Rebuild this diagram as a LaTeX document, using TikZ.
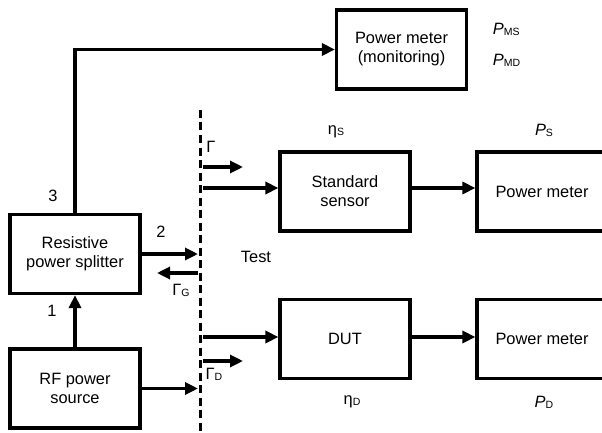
\documentclass[tikz,border=0pt]{standalone}
\usepackage{fontspec}
\setmainfont{Liberation Sans}
\usepackage{tikz}
\usetikzlibrary{arrows.meta}
\def\boxW{130pt}
\def\boxH{79pt}
\def\lw{3.2pt}
% quantity with a small upright index
\newcommand{\qtyidx}[2]{#1{\fontsize{10.5}{11}\selectfont\raisebox{-1pt}{#2}}}

\begin{document}
\begin{tikzpicture}[
    x=1pt, y=-1pt,
    line width=\lw,
    >={Triangle[length=13pt,width=12pt]},
    every node/.style={font=\fontsize{16.4}{19}\selectfont},
    block/.style={draw, rectangle, align=center, line width=\lw,
                  minimum width=\boxW, minimum height=\boxH, inner sep=0pt},
    plane/.style={line width=3pt, dash pattern=on 8pt off 4.5pt}
]
\useasboundingbox (0,0) rectangle (602,433);
\clip (0,0) rectangle (602,433);

\node[block] (mon)   at (401.5,49.5) {Power meter\\(monitoring)};
\node[block] (split) at (75,254)     {Resistive\\power splitter};
\node[block] (src)   at (75,388.5)   {RF power\\source};
\node[block] (std)   at (345,191.5)  {Standard\\sensor};
\node[block] (dut)   at (345,339)    {DUT};
\node[block] (pmS)   at (542,191.5)  {Power meter};
\node[block] (pmD)   at (542,339)    {Power meter};

% test port plane
\coordinate (dtop) at (200,110);
\coordinate (dbot) at (200,433);
\draw[plane] (dtop) -- (dbot);

% splitter and source
\draw[->] (split.north) |- (mon.west);
\draw[->] (src.north) -- (split.south);
\draw[->, shorten >=2pt] (split.east) -- (split.east -| dtop);
\draw[->, shorten >=2pt] (src.east) -- (src.east -| dtop);
\coordinate (retG) at (157,273);
\draw[->, shorten <=2pt] (retG -| dtop) -- (retG);

% standard branch
\coordinate (inS) at (203,188);
\coordinate (gS)  at (203,167);
\coordinate (gSe) at (243,167);
\draw[->] (inS) -- (inS -| std.west);
\draw[->] (gS) -- (gSe);
\draw[->] (std.east |- inS) -- (pmS.west |- inS);

% DUT branch
\coordinate (inD) at (203,337);
\coordinate (gD)  at (203,361);
\coordinate (gDe) at (243,361);
\draw[->] (inD) -- (inD -| dut.west);
\draw[->] (gD) -- (gDe);
\draw[->] (dut.east |- inD) -- (pmD.west |- inD);

% labels
\node (n3) at (53,196) {3};
\node (n2) at (161,232) {2};
\node (n1) at (52,311) {1};
\node (test) at (256,257) {Test};
\node (gam)  at (211,147) {Γ};
\node (gamG) at (181,290) {\qtyidx{Γ}{G}};
\node (gamD) at (214,374) {\qtyidx{Γ}{D}};
\node (etaS) at (336,132) {\qtyidx{η}{S}};
\node (etaD) at (352,402) {\qtyidx{η}{D}};
\node (pS)   at (544,130) {\qtyidx{\textit{P}}{S}};
\node (pD)   at (544,402) {\qtyidx{\textit{P}}{D}};
\node[anchor=west] (pMS) at (488,29) {\qtyidx{\textit{P}}{MS}};
\node[anchor=west] (pMD) at (488,60) {\qtyidx{\textit{P}}{MD}};
\end{tikzpicture}
\end{document}
